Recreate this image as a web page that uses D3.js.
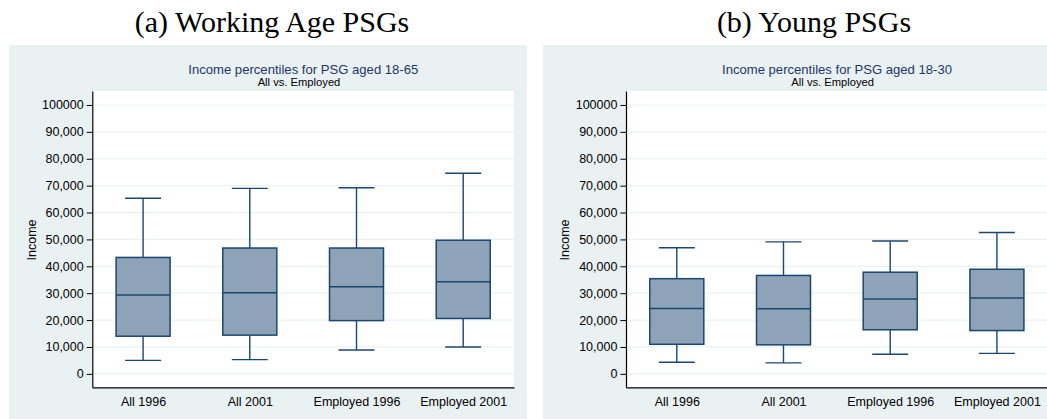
<!DOCTYPE html>
<html><head><meta charset="utf-8">
<script src="https://cdn.jsdelivr.net/npm/d3@7"></script>
<style>body{margin:0;background:#fff;}svg{display:block;}</style>
</head><body>
<svg id="chart" width="1047" height="419"></svg>
<script>
const categories = ["All 1996", "All 2001", "Employed 1996", "Employed 2001"];
const tickValues = [0, 10000, 20000, 30000, 40000, 50000, 60000, 70000, 80000, 90000, 100000];
const tickLabels = ["0", "10,000", "20,000", "30,000", "40,000", "50,000", "60,000", "70,000", "80,000", "90,000", "100000"];

// Panel (a): PSG aged 18-65
const aLower  = [5000, 5300, 8900, 10000];
const aQ1     = [14000, 14400, 19800, 20600];
const aMedian = [29300, 30200, 32400, 34300];
const aQ3     = [43300, 46800, 46800, 49700];
const aUpper  = [65300, 69000, 69200, 74600];

// Panel (b): PSG aged 18-30
const bLower  = [4300, 4100, 7300, 7600];
const bQ1     = [11000, 10800, 16400, 16100];
const bMedian = [24300, 24200, 27800, 28200];
const bQ3     = [35400, 36600, 37800, 38900];
const bUpper  = [46900, 49100, 49400, 52600];

const panels = [
  {head: "(a) Working Age PSGs", title: "Income percentiles for PSG aged 18-65", sub: "All vs. Employed",
   lower: aLower, q1: aQ1, median: aMedian, q3: aQ3, upper: aUpper, dx: 0, headX: 272},
  {head: "(b) Young PSGs", title: "Income percentiles for PSG aged 18-30", sub: "All vs. Employed",
   lower: bLower, q1: bQ1, median: bMedian, q3: bQ3, upper: bUpper, dx: 533.7, headX: 814}
];

const svg = d3.select("#chart");
const navy = "#1a476f";
const fill = "#8ea2b8";
const font = "'Liberation Sans', Arial, sans-serif";

panels.forEach(p => {
  // page-level heading
  svg.append("text").attr("x", p.headX).attr("y", 32).attr("text-anchor", "middle")
    .attr("font-family", "'Liberation Serif', 'Times New Roman', serif").attr("font-size", 30)
    .attr("fill", "#000").text(p.head);

  const g = svg.append("g").attr("transform", `translate(${p.dx},0)`);
  g.append("rect").attr("x", 9).attr("y", 45).attr("width", 518).attr("height", 374).attr("fill", "#eaf1f3");

  const x = d3.scalePoint().domain(categories).range([92.3, 514]).padding(0.476);
  const y = d3.scaleLinear().domain([-5000, 105200]).range([387.3, 91]);

  g.append("rect").attr("x", 92.3).attr("y", 91).attr("width", 514 - 92.3).attr("height", 387.3 - 91).attr("fill", "#fff");

  // gridlines
  g.append("g").selectAll("line").data(tickValues).join("line")
    .attr("x1", 92.3).attr("x2", 514).attr("y1", d => y(d)).attr("y2", d => y(d))
    .attr("stroke", "#eaf2f3").attr("stroke-width", 1.2);

  // titles
  g.append("text").attr("x", 303.3).attr("y", 74.3).attr("text-anchor", "middle")
    .attr("font-family", font).attr("font-size", 13.1).attr("fill", "#1e3666").text(p.title);
  g.append("text").attr("x", 299).attr("y", 85.7).attr("text-anchor", "middle")
    .attr("font-family", font).attr("font-size", 11.2).attr("fill", "#000").text(p.sub);

  // y axis
  const yAxis = d3.axisLeft(y).tickValues(tickValues).tickFormat((d, i) => tickLabels[i])
    .tickSize(5.6).tickPadding(3).tickSizeOuter(0);
  const ya = g.append("g").attr("transform", "translate(92.3,0)").call(yAxis);
  ya.select(".domain").attr("stroke", "#000").attr("stroke-width", 1.2);
  ya.selectAll(".tick line").attr("stroke", "#000").attr("stroke-width", 1);
  ya.selectAll(".tick text").attr("font-family", font).attr("font-size", 12.5).attr("fill", "#000");

  // x axis
  const xAxis = d3.axisBottom(x).tickSize(0).tickPadding(9.5).tickSizeOuter(0);
  const xa = g.append("g").attr("transform", "translate(0,387.3)").call(xAxis);
  xa.select(".domain").attr("stroke", "#000").attr("stroke-width", 1.2);
  xa.selectAll(".tick text").attr("font-family", font).attr("font-size", 12.5).attr("fill", "#000");

  g.append("text").attr("transform", "translate(35.5,240) rotate(-90)").attr("text-anchor", "middle")
    .attr("font-family", font).attr("font-size", 12.5).attr("fill", "#000").text("Income");

  const boxW = 54, capW = 36;
  const boxes = g.append("g").selectAll("g").data(categories).join("g");
  boxes.each(function(c, i) {
    const b = d3.select(this);
    const cx = x(c);
    b.append("line").attr("x1", cx).attr("x2", cx).attr("y1", y(p.upper[i])).attr("y2", y(p.q3[i]))
      .attr("stroke", navy).attr("stroke-width", 1.4);
    b.append("line").attr("x1", cx).attr("x2", cx).attr("y1", y(p.q1[i])).attr("y2", y(p.lower[i]))
      .attr("stroke", navy).attr("stroke-width", 1.4);
    b.append("line").attr("x1", cx - capW / 2).attr("x2", cx + capW / 2).attr("y1", y(p.upper[i])).attr("y2", y(p.upper[i]))
      .attr("stroke", navy).attr("stroke-width", 1.4);
    b.append("line").attr("x1", cx - capW / 2).attr("x2", cx + capW / 2).attr("y1", y(p.lower[i])).attr("y2", y(p.lower[i]))
      .attr("stroke", navy).attr("stroke-width", 1.4);
    b.append("rect").attr("x", cx - boxW / 2).attr("width", boxW)
      .attr("y", y(p.q3[i])).attr("height", y(p.q1[i]) - y(p.q3[i]))
      .attr("fill", fill).attr("stroke", navy).attr("stroke-width", 1.5);
    b.append("line").attr("x1", cx - boxW / 2).attr("x2", cx + boxW / 2).attr("y1", y(p.median[i])).attr("y2", y(p.median[i]))
      .attr("stroke", navy).attr("stroke-width", 1.5);
  });
});
</script>
</body></html>
